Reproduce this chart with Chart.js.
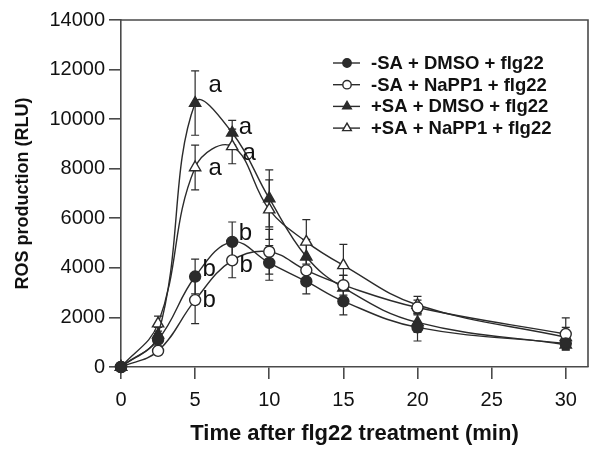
<!DOCTYPE html>
<html>
<head>
<meta charset="utf-8">
<script src="https://cdn.jsdelivr.net/npm/chart.js@4.4.1/dist/chart.umd.min.js"></script>
<style>
  html, body { margin: 0; padding: 0; background: #fff; }
  #wrap { width: 600px; height: 459px; }
</style>
</head>
<body>
<div id="wrap"><canvas id="ros" width="600" height="459"></canvas></div>
<script>
/* ROS burst after flg22 (RLU, mean ± SD) */
const times = [0, 2.5, 5, 7.5, 10, 12.5, 15, 20, 30];
const xTicks = [0, 5, 10, 15, 20, 25, 30];

const labels = ['-SA + DMSO + flg22', '-SA + NaPP1 + flg22',
                '+SA + DMSO + flg22', '+SA + NaPP1 + flg22'];

const minusDmso  = [0, 1100, 3650, 5050, 4200, 3450, 2650, 1600, 950];
const minusNapp  = [0, 650, 2700, 4300, 4650, 3900, 3300, 2400, 1330];
const plusDmso   = [0, 1300, 10650, 9450, 6800, 4450, 3200, 1800, 900];
const plusNapp   = [0, 1750, 8050, 8900, 6350, 5050, 4100, 2500, 1200];

const minusDmsoSd = [0, 250, 700, 800, 700, 500, 550, 550, 200];
const minusNappSd = [0, 150, 950, 700, 900, 500, 400, 300, 650];
const plusDmsoSd  = [0, 300, 1300, 500, 1150, 700, 500, 400, 200];
const plusNappSd  = [0, 300, 900, 700, 1200, 900, 850, 350, 400];

/* significance letters: [time, RLU, letter] */
const letters = [
  [5.9, 11350, 'a'], [5.9, 8030, 'a'], [7.95, 9650, 'a'], [8.2, 8620, 'a'],
  [5.5, 3920, 'b'], [5.5, 2700, 'b'], [7.95, 5400, 'b'], [8.0, 4110, 'b']
];

const INK = '#2b2b2b', AXIS = '#4a4a4a';
const FONT = '"Liberation Sans", Arial, sans-serif';

const series = [
  { data: minusDmso, sd: minusDmsoSd, style: 'circle',   fill: INK },
  { data: minusNapp, sd: minusNappSd, style: 'circle',   fill: '#fff' },
  { data: plusDmso,  sd: plusDmsoSd,  style: 'triangle', fill: INK },
  { data: plusNapp,  sd: plusNappSd,  style: 'triangle', fill: '#fff' }
];

const datasets = series.map((s, i) => ({
  label: labels[i],
  data: times.map((t, k) => ({ x: t, y: s.data[k] })),
  sd: s.sd,
  borderColor: INK, borderWidth: 1.4,
  pointStyle: s.style, pointRadius: s.style === 'triangle' ? 6.5 : 5.5,
  pointBackgroundColor: s.fill, pointBorderColor: INK, pointBorderWidth: 1.4,
  tension: 0.4, clip: false
}));

const errorBars = {
  id: 'errorBars',
  beforeDatasetsDraw(chart) {
    const { ctx, scales: { x, y } } = chart;
    ctx.save();
    ctx.strokeStyle = INK; ctx.lineWidth = 1.2;
    chart.data.datasets.forEach(ds => {
      ds.data.forEach((p, k) => {
        const e = ds.sd[k];
        if (!e) return;
        const px = x.getPixelForValue(p.x);
        const hi = y.getPixelForValue(p.y + e), lo = y.getPixelForValue(p.y - e);
        ctx.beginPath();
        ctx.moveTo(px, hi); ctx.lineTo(px, lo);
        ctx.moveTo(px - 4, hi); ctx.lineTo(px + 4, hi);
        ctx.moveTo(px - 4, lo); ctx.lineTo(px + 4, lo);
        ctx.stroke();
      });
    });
    ctx.restore();
  }
};

const extras = {
  id: 'extras',
  afterDraw(chart) {
    const { ctx, chartArea: a, scales: { x, y } } = chart;
    ctx.save();
    /* frame: top + right edges */
    ctx.strokeStyle = AXIS; ctx.lineWidth = 1.6;
    ctx.beginPath();
    ctx.moveTo(a.left, a.top); ctx.lineTo(a.right, a.top); ctx.lineTo(a.right, a.bottom);
    ctx.stroke();

    /* letters */
    ctx.fillStyle = '#111';
    ctx.font = '24px ' + FONT;
    ctx.textAlign = 'left'; ctx.textBaseline = 'middle';
    letters.forEach(([t, v, s]) => ctx.fillText(s, x.getPixelForValue(t), y.getPixelForValue(v)));

    /* legend */
    ctx.font = 'bold 18.5px ' + FONT;
    chart.data.datasets.forEach((ds, i) => {
      const cy = 63 + i * 21.7;
      ctx.strokeStyle = INK; ctx.lineWidth = 1.4;
      ctx.beginPath(); ctx.moveTo(333, cy); ctx.lineTo(360, cy); ctx.stroke();
      ctx.fillStyle = ds.pointBackgroundColor;
      Chart.helpers.drawPoint(ctx, { pointStyle: ds.pointStyle, radius: ds.pointStyle === 'triangle' ? 5 : 4.2,
                                     rotation: 0, borderWidth: 1.4 }, 347, cy);
      ctx.fillStyle = '#111';
      ctx.fillText(ds.label, 371, cy + 1);
    });
    ctx.restore();
  }
};

new Chart(document.getElementById('ros'), {
  type: 'line',
  data: { datasets },
  plugins: [errorBars, extras],
  options: {
    responsive: false, animation: false,
    layout: { padding: { top: 20, right: 12, left: 0, bottom: 0 } },
    plugins: { legend: { display: false }, tooltip: { enabled: false } },
    scales: {
      x: {
        type: 'linear', min: 0, max: 31.5,
        afterBuildTicks: s => { s.ticks = xTicks.map(v => ({ value: v })); },
        afterFit: s => { s.height = 92; },
        grid: { drawOnChartArea: false, drawTicks: true, tickLength: 12, color: AXIS, lineWidth: 1.6 },
        border: { display: true, color: AXIS, width: 1.6 },
        ticks: { color: '#111', padding: 9, font: { family: FONT, size: 20 }, callback: v => String(v) },
        title: { display: true, text: 'Time after flg22 treatment (min)', color: '#111',
                 padding: { top: 0, bottom: 12 }, font: { family: FONT, size: 22, weight: 'bold' } }
      },
      y: {
        min: 0, max: 14000,
        afterBuildTicks: s => { s.ticks = s.ticks.filter(t => t.value % 2000 === 0); },
        afterFit: s => { s.width = 121; },
        grid: { drawOnChartArea: false, drawTicks: true, tickLength: 12, color: AXIS, lineWidth: 1.6 },
        border: { display: true, color: AXIS, width: 1.6 },
        ticks: { stepSize: 2000, color: '#111', padding: 4, font: { family: FONT, size: 20 }, callback: v => String(v) },
        title: { display: true, text: 'ROS production (RLU)', color: '#111',
                 padding: { top: 12, bottom: 0 }, font: { family: FONT, size: 18, weight: 'bold' } }
      }
    }
  }
});
</script>
</body>
</html>
